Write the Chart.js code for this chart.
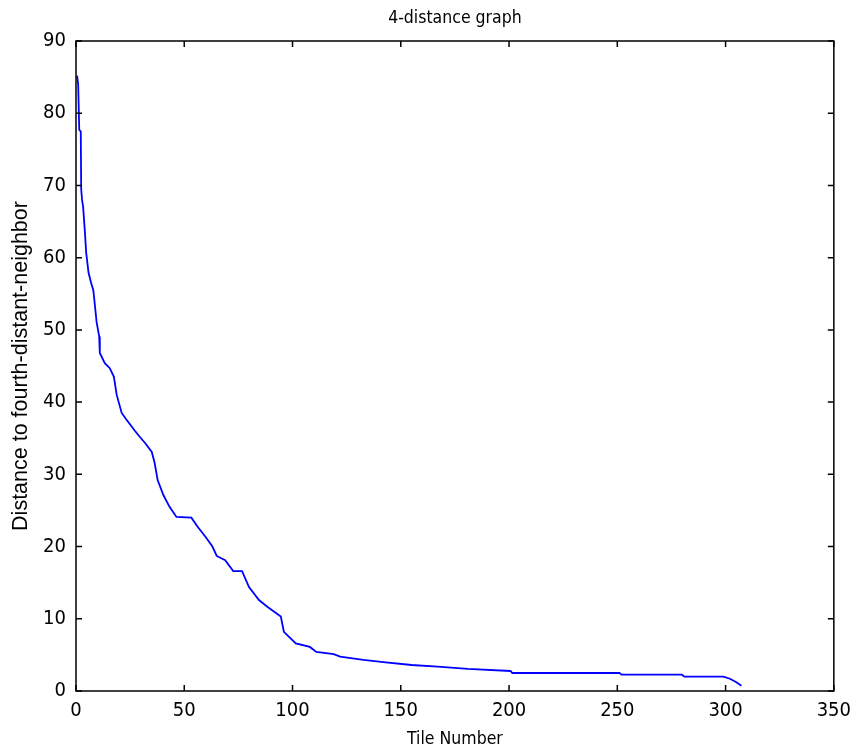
<!DOCTYPE html>
<html>
<head>
<meta charset="utf-8">
<script src="https://cdn.jsdelivr.net/npm/chart.js@4/dist/chart.umd.min.js"></script>
<style>
html,body{margin:0;padding:0;background:#fff;}
#wrap{width:859px;height:755px;position:relative;}
</style>
</head>
<body>
<div id="wrap"><canvas id="c" width="859" height="755"></canvas></div>
<script>
const chartTitle = "4-distance graph";
const xLabel = "Tile Number";
const yLabel = "Distance to fourth-distant-neighbor";
const xTicks = [0, 50, 100, 150, 200, 250, 300, 350];
const yTicks = [0, 10, 20, 30, 40, 50, 60, 70, 80, 90];
// tile index (sorted)
const tileNumber = [0.5, 1, 1.5, 2.2, 2.4, 2.8, 3.3, 4.1, 4.7, 5.8, 7, 8, 8.7, 9.5, 10.7, 11, 13.3, 15.6, 17.5, 18.8,
  21.1, 23, 27, 29.4, 32, 35, 36.3, 37.7, 40.4, 43.2, 46.4, 53.3, 56, 59.7, 63, 65, 68.9, 72.6, 76.7, 79.9,
  84.5, 88.2, 94.6, 96, 101.5, 108, 111, 119, 122, 132.7, 143, 155, 167, 181, 200.7, 201.5, 251, 252, 279.8, 281,
  299, 302, 305, 307.3];
// distance to 4th neighbor
const distance = [85.2, 84, 77.7, 77.5, 69.5, 68, 67, 63.6, 60.7, 57.9, 56.5, 55.5, 53.5, 51.1, 49.1, 46.8, 45.4, 44.7, 43.5, 41,
  38.5, 37.7, 36.1, 35.2, 34.3, 33.1, 31.6, 29.2, 27.1, 25.5, 24.1, 24, 22.8, 21.4, 20, 18.7, 18.1, 16.6, 16.6, 14.4,
  12.6, 11.7, 10.3, 8.2, 6.6, 6.1, 5.4, 5.1, 4.75, 4.3, 3.97, 3.6, 3.37, 3.05, 2.77, 2.49, 2.49, 2.26, 2.26, 1.98,
  1.98, 1.7, 1.2, 0.73];

const points = tileNumber.map((x, i) => ({x: x, y: distance[i]}));
const NARROW = "'DejaVu Sans Condensed', 'Liberation Sans', sans-serif";
const REG = "'Liberation Sans', Arial, sans-serif";

const boxPlugin = {
  id: 'box',
  afterDraw(chart) {
    const {ctx, chartArea: a, scales} = chart;
    ctx.save();
    ctx.strokeStyle = '#000';
    ctx.lineWidth = 1.5;
    ctx.strokeRect(a.left, a.top, a.right - a.left, a.bottom - a.top);
    const L = 6;
    ctx.beginPath();
    xTicks.forEach(v => {
      const px = scales.x.getPixelForValue(v);
      ctx.moveTo(px, a.bottom); ctx.lineTo(px, a.bottom - L);
      ctx.moveTo(px, a.top); ctx.lineTo(px, a.top + L);
    });
    yTicks.forEach(v => {
      const py = scales.y.getPixelForValue(v);
      ctx.moveTo(a.left, py); ctx.lineTo(a.left + L, py);
      ctx.moveTo(a.right, py); ctx.lineTo(a.right - L, py);
    });
    ctx.stroke();
    ctx.fillStyle = '#000';
    ctx.font = '17.5px ' + NARROW;
    ctx.textAlign = 'center';
    ctx.textBaseline = 'middle';
    ctx.fillText(chartTitle, (a.left + a.right) / 2, 18);
    ctx.restore();
  }
};

new Chart(document.getElementById('c'), {
  type: 'line',
  data: {
    datasets: [{
      data: points,
      borderColor: '#0000ff',
      borderWidth: 1.8,
      pointRadius: 0,
      tension: 0,
      fill: false
    }]
  },
  options: {
    responsive: false,
    animation: false,
    layout: {padding: {top: 41, right: 21, left: 0, bottom: 0}},
    plugins: {legend: {display: false}, tooltip: {enabled: false}, title: {display: false}},
    scales: {
      x: {
        type: 'linear', min: 0, max: 350,
        afterBuildTicks: s => { s.ticks = xTicks.map(v => ({value: v})); },
        afterFit: s => { s.height = 64; },
        grid: {display: false, drawTicks: false},
        border: {display: false},
        ticks: {color: '#000', font: {family: NARROW, size: 20}, padding: 8, maxRotation: 0},
        title: {display: true, text: xLabel, color: '#000', font: {family: NARROW, size: 17.5}, padding: {top: 0, bottom: 5}}
      },
      y: {
        type: 'linear', min: 0, max: 90,
        afterBuildTicks: s => { s.ticks = yTicks.map(v => ({value: v})); },
        afterFit: s => { s.width = 76; },
        grid: {display: false, drawTicks: false},
        border: {display: false},
        ticks: {color: '#000', font: {family: NARROW, size: 20}, padding: 10},
        title: {display: true, text: yLabel, color: '#000', font: {family: REG, size: 21.5}, padding: {top: 8, bottom: 0}}
      }
    }
  },
  plugins: [boxPlugin]
});
</script>
</body>
</html>
